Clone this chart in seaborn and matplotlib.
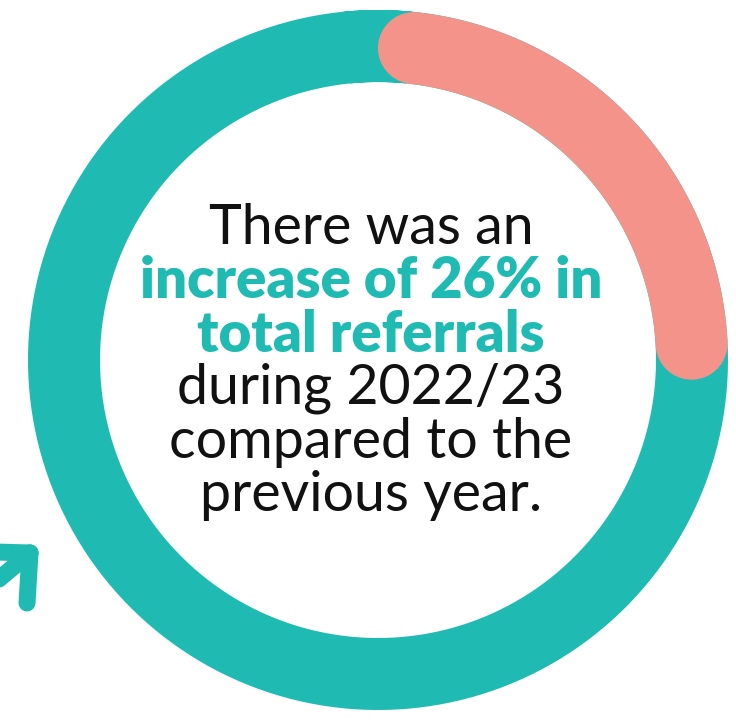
import matplotlib
matplotlib.use('Agg')
import matplotlib.pyplot as plt
import seaborn as sns
import pandas as pd
import numpy as np

# data
increase_pct = 26
ring_parts = ['Increase', 'Rest']
ring_colors = ['#F4938A', '#1FBBB2']

text_lines = ['There was an', 'increase of 26% in', 'total referrals',
              'during 2022/23', 'compared to the', 'previous year.']
text_bold = [False, True, True, False, False, False]

TEAL = ring_colors[1]
SALMON = ring_colors[0]


def main():
    sns.set_theme(style='white')
    plt.rcParams['font.family'] = ['Lato', 'DejaVu Sans']

    fig = plt.figure(figsize=(7.36, 7.20), dpi=100)
    fig.patch.set_facecolor('white')

    # polar axes for the ring, centred at (378, 360) px
    cx, cy, half = 378, 360, 360
    ring_r = 314
    ax = fig.add_axes([(cx - half) / 736, (720 - cy - half) / 720, 2 * half / 736, 2 * half / 720],
                      projection='polar')
    ax.set_theta_zero_location('N')
    ax.set_theta_direction(-1)
    ax.set_ylim(0, half / ring_r)
    ax.axis('off')

    lw = 72 * 72 / 100  # ring width in points
    cap = (36 / ring_r)  # angle eaten by one round cap

    full = pd.DataFrame({'theta': np.linspace(-0.1, 2 * np.pi + 0.1, 420), 'r': 1.0})
    sns.lineplot(data=full, x='theta', y='r', ax=ax, color=TEAL, linewidth=lw,
                 solid_capstyle='butt', sort=False, estimator=None)

    span = increase_pct / 100 * 2 * np.pi
    arc = pd.DataFrame({'theta': np.linspace(cap, span - cap, 200), 'r': 1.0})
    sns.lineplot(data=arc, x='theta', y='r', ax=ax, color=SALMON, linewidth=lw,
                 solid_capstyle='round', sort=False, estimator=None)

    # overlay for text and arrow, pixel coordinates
    ov = fig.add_axes([0, 0, 1, 1])
    ov.set_xlim(0, 736)
    ov.set_ylim(720, 0)
    ov.axis('off')
    ov.patch.set_alpha(0)

    y0, dy = 228, 53.5
    for i, (line, bold) in enumerate(zip(text_lines, text_bold)):
        ov.text(371, y0 + i * dy, line, ha='center', va='center',
                fontsize=40.5 if bold else 40, color=TEAL if bold else '#111111',
                fontweight='heavy' if bold else 'normal')

    # arrow decoration bottom-left
    alw = 17 * 72 / 100
    tip = (30, 553)
    for end in [(-20, 595), (-5, 552), (27, 603)]:
        ov.plot([end[0], tip[0]], [end[1], tip[1]], color=TEAL, linewidth=alw,
                solid_capstyle='round', clip_on=True)

    fig.savefig('out.png', dpi=100, facecolor='white')
    plt.close(fig)


if __name__ == '__main__':
    main()
